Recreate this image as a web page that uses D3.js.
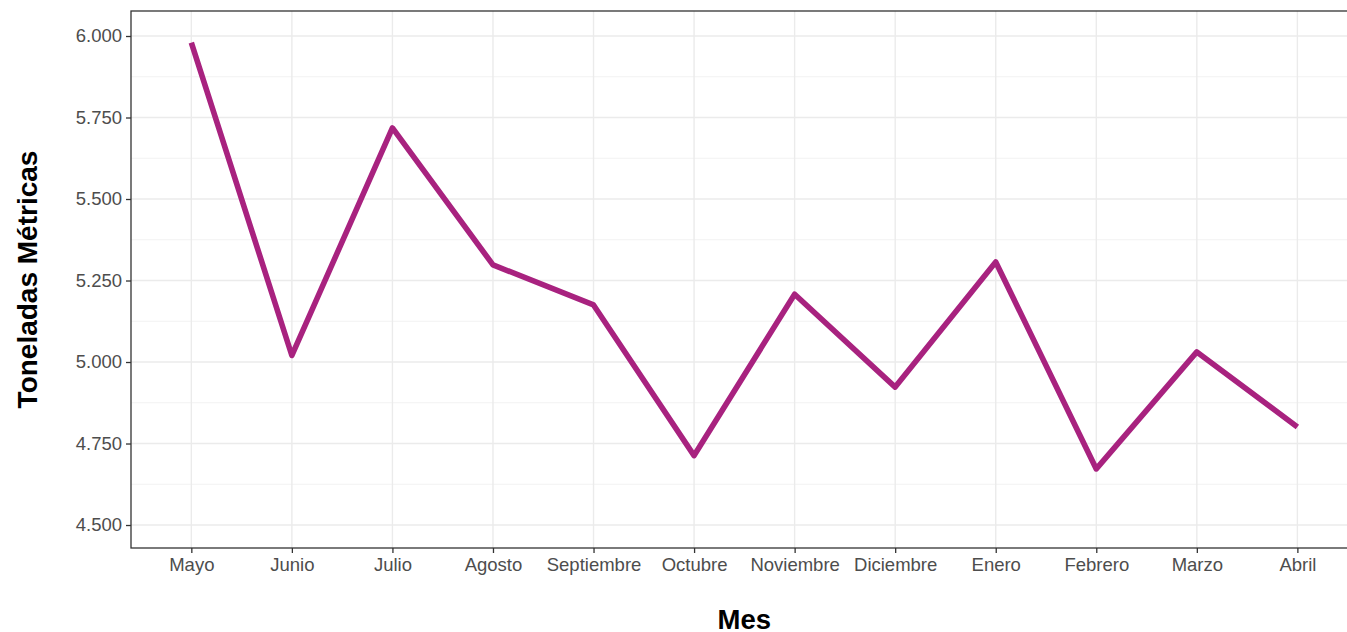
<!DOCTYPE html>
<html>
<head>
<meta charset="utf-8">
<script src="https://cdn.jsdelivr.net/npm/d3@7"></script>
<style>
  html, body { margin: 0; padding: 0; background: #fff; overflow: hidden; }
  svg { display: block; font-family: "Liberation Sans", Arial, sans-serif; }
</style>
</head>
<body>
<svg id="chart" width="1347" height="632"></svg>
<script>
const months = ["Mayo","Junio","Julio","Agosto","Septiembre","Octubre","Noviembre","Diciembre","Enero","Febrero","Marzo","Abril"];
const toneladas = [5.98, 5.02, 5.718, 5.298, 5.175, 4.713, 5.208, 4.923, 5.307, 4.672, 5.031, 4.801];
const yTicks = [4.5, 4.75, 5.0, 5.25, 5.5, 5.75, 6.0];
const yMinor = [4.625, 4.875, 5.125, 5.375, 5.625, 5.875];
const xTitle = "Mes";
const yTitle = "Toneladas Métricas";

const svg = d3.select("#chart");
const pLeft = 131, pTop = 11, pBottom = 548;
const step = 100.55;
const pRight = pLeft + step * 12.2;   // ggplot discrete expansion 0.6 each side

const x = d3.scalePoint().domain(months).range([pLeft + 0.6 * step, pRight - 0.6 * step]);
const y = d3.scaleLinear().domain([4.4295, 6.0767]).range([pBottom, pTop]);

const g = svg.append("g");

g.append("rect").attr("x", pLeft).attr("y", pTop).attr("width", pRight - pLeft).attr("height", pBottom - pTop).attr("fill", "#fff");

g.selectAll(".ymin").data(yMinor).join("line")
  .attr("x1", pLeft).attr("x2", pRight)
  .attr("y1", d => y(d)).attr("y2", d => y(d))
  .attr("stroke", "#f2f2f2").attr("stroke-width", 1);
g.selectAll(".ymaj").data(yTicks).join("line")
  .attr("x1", pLeft).attr("x2", pRight)
  .attr("y1", d => y(d)).attr("y2", d => y(d))
  .attr("stroke", "#ebebeb").attr("stroke-width", 1.4);
g.selectAll(".xmaj").data(months).join("line")
  .attr("x1", d => x(d)).attr("x2", d => x(d))
  .attr("y1", pTop).attr("y2", pBottom)
  .attr("stroke", "#ebebeb").attr("stroke-width", 1.4);

const line = d3.line().x((d, i) => x(months[i])).y(d => y(d));
g.append("path").datum(toneladas)
  .attr("d", line)
  .attr("fill", "none")
  .attr("stroke", "#a8227f")
  .attr("stroke-width", 5.6)
  .attr("stroke-linejoin", "round")
  .attr("stroke-linecap", "butt");

g.append("rect").attr("x", pLeft).attr("y", pTop).attr("width", pRight - pLeft).attr("height", pBottom - pTop)
  .attr("fill", "none").attr("stroke", "#333333").attr("stroke-width", 1.3);

const yAxis = d3.axisLeft(y).tickValues(yTicks).tickFormat(d3.format(".3f")).tickSize(5).tickPadding(4);
const ya = svg.append("g").attr("transform", `translate(${pLeft},0)`).call(yAxis);
ya.select(".domain").remove();
ya.selectAll(".tick line").attr("stroke", "#333333").attr("stroke-width", 1.3);
ya.selectAll(".tick text").attr("fill", "#4d4d4d").style("font-size", "18.5px")
  .style("font-family", "Liberation Sans, Arial, sans-serif");

const xAxis = d3.axisBottom(x).tickSize(5).tickPadding(5);
const xa = svg.append("g").attr("transform", `translate(0,${pBottom})`).call(xAxis);
xa.select(".domain").remove();
xa.selectAll(".tick line").attr("stroke", "#333333").attr("stroke-width", 1.3);
xa.selectAll(".tick text").attr("fill", "#4d4d4d").style("font-size", "18.5px")
  .style("font-family", "Liberation Sans, Arial, sans-serif");

svg.append("text").attr("x", x(months[5]) + step / 2).attr("y", 629)
  .attr("text-anchor", "middle").attr("font-weight", "bold").style("font-size", "27.5px")
  .attr("fill", "#000").text(xTitle);
svg.append("text").attr("transform", `translate(37,${(pTop + pBottom) / 2}) rotate(-90)`)
  .attr("text-anchor", "middle").attr("font-weight", "bold").style("font-size", "28px")
  .attr("fill", "#000").text(yTitle);
</script>
</body>
</html>
